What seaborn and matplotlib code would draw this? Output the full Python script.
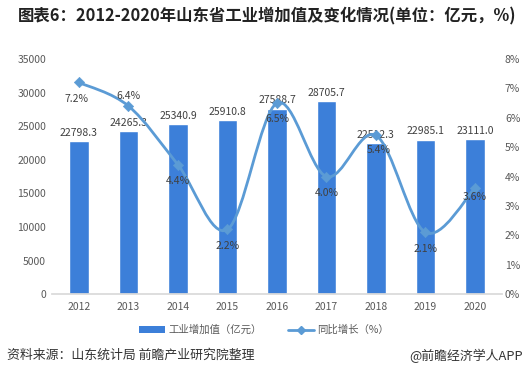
import matplotlib
matplotlib.use("Agg")
import matplotlib.pyplot as plt
import seaborn as sns
import numpy as np
import pandas as pd
from matplotlib.path import Path
from matplotlib.patches import PathPatch
from matplotlib.lines import Line2D
from matplotlib.patches import Patch

years = ["2012", "2013", "2014", "2015", "2016", "2017", "2018", "2019", "2020"]
values = [22798.3, 24265.3, 25340.9, 25910.8, 27588.7, 28705.7, 22512.3, 22985.1, 23111.0]
growth = [7.2, 6.4, 4.4, 2.2, 6.5, 4.0, 5.4, 2.1, 3.6]
growth_labels = ["7.2%", "6.4%", "4.4%", "2.2%", "6.5%", "4.0%", "5.4%", "2.1%", "3.6%"]
left_ticks = [0, 5000, 10000, 15000, 20000, 25000, 30000, 35000]
right_ticks = [0, 1, 2, 3, 4, 5, 6, 7, 8]

sns.set_theme(style="white")
plt.rcParams['font.family'] = ['Noto Sans CJK SC', 'DejaVu Sans']

bar_color = "#3c7fd9"
line_color = "#5b9bd5"
text_color = "#404040"

fig = plt.figure(figsize=(5.28, 3.83), dpi=100)
ax = fig.add_axes([0.098, 0.232, 0.853, 0.614])

df = pd.DataFrame({"year": years, "value": values})
sns.barplot(data=df, x="year", y="value", color=bar_color, width=0.4, ax=ax, saturation=1)
ax.set_ylim(0, 35000)
ax.set_yticks(left_ticks)
ax.set_yticklabels([str(t) for t in left_ticks], fontsize=7.5, color="#595959")
ax.set_xlabel("")
ax.set_ylabel("")
ax.tick_params(axis="x", labelsize=7.5, colors="#595959", length=0, pad=6)
ax.tick_params(axis="y", length=0, pad=4)
for s in ["top", "right", "left"]:
    ax.spines[s].set_visible(False)
ax.spines["bottom"].set_color("#d9d9d9")
ax.set_xlim(-0.55, 8.55)

for i, v in enumerate(values):
    ax.text(i, v + 500, f"{v:.1f}", ha="center", va="bottom", fontsize=7.5, color=text_color)

ax2 = ax.twinx()
ax2.set_ylim(0, 8)
ax2.set_yticks(right_ticks)
ax2.set_yticklabels([f"{t}%" for t in right_ticks], fontsize=7.5, color="#595959")
ax2.tick_params(axis="y", length=0, pad=2)
for s in ["top", "right", "left", "bottom"]:
    ax2.spines[s].set_visible(False)

# smooth line (Catmull-Rom style Bezier through data points)
xs = np.arange(len(growth), dtype=float)
ys = np.array(growth, dtype=float)
verts = [(xs[0], ys[0])]
codes = [Path.MOVETO]
n = len(xs)
for i in range(n - 1):
    p0 = (xs[max(i - 1, 0)], ys[max(i - 1, 0)])
    p1 = (xs[i], ys[i])
    p2 = (xs[i + 1], ys[i + 1])
    p3 = (xs[min(i + 2, n - 1)], ys[min(i + 2, n - 1)])
    c1 = (p1[0] + (p2[0] - p0[0]) / 6, p1[1] + (p2[1] - p0[1]) / 6)
    c2 = (p2[0] - (p3[0] - p1[0]) / 6, p2[1] - (p3[1] - p1[1]) / 6)
    verts += [c1, c2, p2]
    codes += [Path.CURVE4] * 3
patch = PathPatch(Path(verts, codes), facecolor="none", edgecolor=line_color, lw=2, zorder=3)
ax2.add_patch(patch)
sns.scatterplot(x=xs, y=ys, marker="D", s=28, color=line_color, edgecolor=line_color, ax=ax2, zorder=4, legend=False)

offsets = [(-0.05, -0.55), (0.0, 0.35), (0.0, -0.55), (0.0, -0.55), (0.0, -0.55),
           (0.0, -0.55), (0.05, -0.5), (0.0, -0.55), (0.0, -0.3)]
for i, (g, lab) in enumerate(zip(growth, growth_labels)):
    dx, dy = offsets[i]
    ax2.text(i + dx, g + dy, lab, ha="center", va="center", fontsize=7.5, color=text_color, zorder=5)

fig.text(0.034, 0.956, "图表6：2012-2020年山东省工业增加值及变化情况(单位：亿元，%)",
         fontsize=11.8, fontweight="bold", color="#222222", ha="left", va="center")

handles = [Patch(facecolor=bar_color, edgecolor="none"),
           Line2D([0], [0], color=line_color, lw=2, marker="D", markersize=4)]
fig.legend(handles, ["工业增加值（亿元）", "同比增长（%）"], loc="center", bbox_to_anchor=(0.5, 0.138),
           ncol=2, frameon=False, fontsize=7.5, handlelength=2.5, handleheight=0.6, columnspacing=2.5,
           labelcolor="#595959", handletextpad=0.3)

fig.text(0.014, 0.072, "资料来源：山东统计局 前瞻产业研究院整理", fontsize=9.3, color="#333333", ha="left", va="center")
fig.text(0.99, 0.072, "@前瞻经济学人APP", fontsize=9.3, color="#333333", ha="right", va="center")

fig.savefig("out.png", dpi=100)
